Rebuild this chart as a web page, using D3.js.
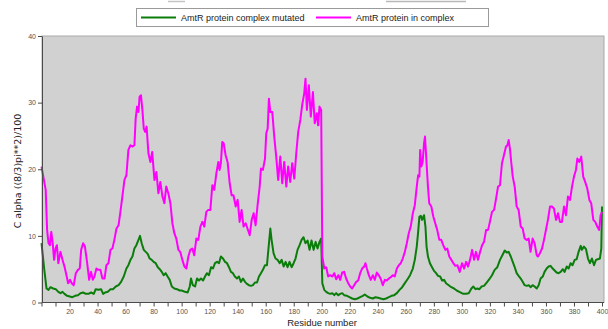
<!DOCTYPE html>
<html>
<head>
<meta charset="utf-8">
<script src="https://cdn.jsdelivr.net/npm/d3@7"></script>
<style>
  body { margin: 0; background: #fff; }
  svg { display: block; font-family: "Liberation Sans", Arial, sans-serif; }
</style>
</head>
<body>
<div id="chart"></div>
<script>
// chart data: [residue, value]
const seriesNames = ["AmtR protein complex mutated", "AmtR protein in complex"];
const seriesColors = ["#0a7d0a", "#ff00ff"];

const mutated = [
  [0,8.9],[2,4.9],[3.6,2.1],[5,1.9],[6.4,2.3],[8.3,2.1],[10.2,2.0],[12,1.6],[13.5,1.4],[15,1.6],
  [16.4,1.3],[18.3,1.0],[20.2,0.9],[22,0.8],[24,1.0],[26,1.1],[27.8,1.4],[29.7,1.5],[31.6,1.3],[33.5,1.3],
  [35.4,1.5],[37.3,1.3],[38.7,2.0],[40.6,1.9],[42.5,2.0],[44,1.3],[45.4,1.5],[47.3,1.6],[49.2,2.0],[51,2.0],
  [53,2.4],[55,2.6],[56.8,3.1],[58.7,3.9],[60.6,5.1],[62,5.6],[63.5,6.4],[64.9,6.9],[66.3,8.1],[67.7,8.6],
  [69.2,9.4],[70.3,10.0],[71.5,8.9],[73,7.9],[74.4,7.6],[75.8,7.3],[77.2,6.6],[78.7,6.4],[80,6.1],[81.5,5.9],
  [83,5.3],[84.4,5.0],[85.8,4.6],[87.2,4.1],[88.6,4.4],[90,3.9],[91.5,3.4],[93,2.4],[94.8,2.1],[96.7,2.0],
  [98.6,1.8],[100,1.8],[102.4,1.6],[104.3,1.5],[105.8,2.4],[106.7,3.6],[108,2.6],[109.6,2.4],[111,3.6],[112.4,3.3],
  [113.8,3.6],[115.3,3.3],[116.7,3.9],[118,4.4],[119.5,4.1],[121,5.3],[122.4,5.1],[123.8,5.9],[125.3,6.1],[126.7,5.9],
  [128,6.9],[129.5,6.6],[131,6.1],[132.4,5.9],[133.8,5.3],[135.2,4.6],[136.6,4.4],[138,3.9],[139.5,3.6],[140.9,3.9],
  [142.3,3.1],[143.8,3.6],[145.2,3.1],[146.6,2.8],[148,2.6],[149.5,2.5],[150.9,2.6],[152.3,3.0],[153.8,3.0],[155.2,3.9],
  [156.6,4.4],[158,4.9],[159.5,5.6],[160.9,5.6],[161.9,7.9],[163.3,11.1],[164.2,9.4],[165.6,7.4],[167,6.6],[168.5,6.4],
  [170,5.9],[171.4,6.4],[172.8,5.4],[174.2,6.1],[175.6,5.3],[177,6.1],[178.5,5.3],[179.9,5.9],[181.3,6.6],[182.7,7.9],
  [184.2,8.6],[185.6,9.4],[187,9.8],[188.4,8.9],[189.9,9.3],[191.3,7.9],[192.7,9.3],[194.2,7.9],[195.6,9.1],[197,8.1],
  [198.4,9.1],[199.6,9.6],[200.4,2.9],[201.8,1.9],[203.2,1.6],[204.6,1.4],[206,1.3],[207.5,1.4],[208.9,1.1],[210.3,1.4],
  [211.8,1.1],[213.2,1.3],[214.6,1.4],[216,1.1],[218,1.0],[219.8,0.8],[221.7,0.6],[223.6,0.5],[225.5,0.6],[227.4,0.8],
  [229.3,1.0],[230.7,1.2],[232.6,0.9],[234.5,0.7],[236.5,0.6],[238.3,0.8],[240.2,0.7],[242,0.6],[244,0.5],[245.9,0.6],
  [247.9,0.8],[249.8,1.0],[251.7,1.1],[253.6,1.4],[255.5,1.9],[257.4,2.3],[259.3,2.9],[261.2,3.5],[263,4.1],[265,5.1],
  [266.4,6.4],[267.8,8.4],[268.8,10.6],[269.7,12.9],[270.7,13.0],[271.6,12.4],[273,13.1],[274,11.4],[274.8,8.4],[275.8,6.9],
  [277.2,5.9],[278.7,5.3],[280,4.8],[281.6,4.4],[283,4.0],[284.5,3.9],[285.9,3.3],[287.3,3.4],[288.7,2.9],[290.6,2.6],
  [292.5,2.3],[294.4,2.1],[296.3,1.8],[298.2,1.6],[300,1.4],[301,1.3],[303,1.3],[304.9,1.4],[306.8,2.1],[308.2,2.4],
  [309.7,2.0],[311,2.1],[312.5,2.0],[314,2.4],[315.8,2.5],[317.7,3.0],[319.6,3.5],[321.5,4.1],[323.4,4.9],[325.3,5.3],
  [327.2,6.4],[328.9,7.1],[330.6,7.8],[332,7.5],[333.4,7.6],[334.9,6.9],[336.3,6.1],[337.7,5.3],[339.1,4.4],[340.5,4.0],
  [342,3.6],[343.4,3.1],[344.8,2.6],[346.2,2.5],[347.7,2.6],[349,2.3],[350.5,2.6],[351.9,2.4],[353.4,2.1],[354.8,2.6],
  [356.2,3.6],[357.7,3.9],[359,4.6],[360.5,5.1],[361.9,5.4],[363.3,5.5],[364.8,5.1],[366.2,4.8],[367.6,4.5],[369,4.4],
  [370.5,4.6],[372,5.0],[373.3,4.6],[374.8,5.4],[376.2,5.1],[377.6,5.9],[379,5.6],[380.5,6.4],[381.9,6.5],[383.3,7.6],
  [384.8,8.5],[385.7,7.9],[387.1,8.4],[388.6,8.0],[390,6.6],[391.4,5.9],[392.8,6.6],[394.3,5.6],[395.7,6.4],[397,6.5],
  [398.5,6.6],[399.5,8.1],[400.3,14.4]
];

const inComplex = [
  [0,20.4],[3,16.9],[4,10.9],[5,8.9],[6,8.6],[7,10.6],[8,8.9],[9,6.4],[10,8.1],[11,8.6],
  [12,5.9],[13.5,7.6],[15,6.4],[16.4,5.4],[18,3.9],[19,2.9],[20.4,3.4],[21.6,2.9],[23,2.6],[24.5,4.4],
  [26,4.9],[27.3,5.1],[28.3,7.9],[29.7,8.9],[31,8.4],[32.6,5.9],[34,3.4],[35.4,4.6],[36.6,3.4],[37.8,3.9],
  [39.2,5.1],[40.6,4.9],[42,4.9],[43.5,3.6],[45,3.6],[46.3,5.6],[47.8,5.9],[49.2,7.9],[50.6,8.1],[52,9.4],
  [53.5,11.1],[55,11.6],[56.3,13.6],[57.7,15.9],[59.2,18.4],[60.6,19.1],[62,22.9],[63.5,23.6],[64.9,23.4],[66.3,23.6],
  [67.2,27.6],[68.2,29.4],[69.2,28.6],[70,30.9],[71,31.1],[72,28.9],[73,26.1],[74,25.6],[75,26.4],[76.3,22.4],
  [77.7,21.1],[79,22.6],[80.6,18.4],[82,19.6],[83.4,16.4],[84.8,18.1],[86.3,15.9],[87.7,14.9],[89,17.4],[90.5,16.4],
  [92,14.9],[93.4,11.9],[94.8,10.4],[96.2,9.6],[97.7,7.9],[99,7.6],[100.5,6.4],[102,5.4],[103.4,5.1],[104.8,6.9],
  [106.2,7.9],[107.6,8.1],[109,7.1],[110.5,9.6],[111.9,9.4],[113.4,11.4],[114.8,12.1],[116.2,11.4],[117.6,13.6],[119,13.9],
  [120.5,13.9],[121.9,17.6],[123.3,16.9],[124.8,19.4],[126.2,21.1],[127.1,19.9],[128,20.9],[129,24.1],[130,23.9],[131.4,22.1],
  [132.8,21.1],[134.3,17.9],[135.7,16.1],[137,16.1],[138.6,14.4],[140,15.4],[141.4,12.1],[142.8,13.9],[144.2,11.4],[145.7,11.9],
  [147,11.1],[148.6,10.1],[150,12.4],[151.4,13.4],[152.8,11.6],[154.2,14.6],[155.7,17.4],[156.6,20.1],[158,19.9],[159.5,21.6],
  [160.4,25.4],[161.4,26.1],[162.3,30.6],[163.3,28.6],[164.7,28.6],[166.1,24.9],[167.5,21.9],[168.9,18.4],[170.4,21.9],[171.8,17.9],
  [173.2,21.1],[174.7,17.4],[176,20.4],[177.5,18.1],[178.9,20.9],[180.4,18.6],[181.8,22.4],[183.2,25.6],[184.7,27.4],[186,29.6],
  [187.5,31.4],[188.4,33.6],[189.4,28.9],[190.8,32.6],[192.2,27.9],[193.7,31.6],[195,26.9],[196.5,28.4],[197.4,26.6],[198.4,29.4],
  [199.6,28.9],[200.4,6.9],[201.8,5.1],[203.2,5.3],[204.6,3.9],[206,4.1],[207.5,3.9],[208.9,4.4],[210.3,3.5],[211.8,4.1],
  [213.2,3.4],[214.6,4.5],[216,4.6],[217.4,3.6],[218.9,2.9],[220.3,2.4],[221.7,2.1],[223.1,2.6],[224.6,3.1],[226,3.3],
  [227.4,4.4],[228.8,5.1],[230.3,5.4],[231.2,5.9],[232.2,5.1],[233.6,4.1],[235,3.4],[236.5,4.1],[237.9,3.4],[239.3,4.5],
  [240.7,4.1],[242,3.6],[243.6,2.6],[245,3.4],[246.4,3.3],[247.9,3.6],[249.3,3.8],[250.7,4.1],[252.1,3.9],[253.6,5.1],
  [255,5.6],[256.4,5.9],[257.8,6.6],[259.3,7.6],[260.7,8.9],[262.1,10.4],[263.5,11.4],[265,13.4],[266.4,14.6],[267.8,17.4],
  [268.8,19.1],[269.7,18.9],[270.2,22.9],[271.1,20.4],[272,21.1],[273,23.9],[273.7,24.9],[274.8,20.9],[275.8,17.4],[276.7,14.9],
  [278.2,14.4],[279.6,12.9],[281,11.9],[282.4,10.9],[283.9,9.4],[285.3,9.4],[286.7,8.6],[288.2,7.9],[289.6,8.1],[291,6.9],
  [292.5,6.4],[293.9,5.9],[295.3,5.5],[296.8,5.6],[298.5,4.6],[300.1,5.9],[301.6,5.1],[303,6.1],[304.4,5.4],[305.8,6.4],
  [307.3,7.9],[308.7,6.4],[310,7.6],[311.5,6.4],[313,7.6],[314.4,8.6],[315.8,9.1],[317.3,10.9],[318.7,10.9],[320,12.1],
  [321.5,13.6],[323,13.9],[324.4,15.6],[325.8,17.4],[327.2,17.6],[328.6,20.9],[330,22.1],[331.5,23.4],[332.5,23.6],[333.4,24.4],
  [334.4,22.9],[335.3,20.9],[336.3,18.9],[337.7,17.4],[339.1,14.4],[340.5,13.9],[342,11.4],[343.4,11.1],[344.8,9.6],[346.2,9.4],
  [347.7,9.6],[349,7.6],[350.5,9.6],[351.9,8.9],[353.4,7.1],[354.3,6.9],[355.7,7.4],[357.2,8.1],[358.6,9.4],[360,10.9],
  [361.4,12.4],[362.9,14.4],[364.3,14.4],[365.7,14.1],[367.2,12.4],[368.6,13.4],[370,12.1],[371.4,12.1],[372.9,14.4],[374.3,13.1],
  [375.7,15.9],[377.2,15.4],[378.6,17.4],[380,18.9],[381.4,19.9],[382.4,21.6],[383.8,21.1],[385.2,21.9],[386.6,18.9],[388,18.1],
  [389.5,17.1],[391,15.4],[392.3,14.9],[393.8,12.4],[395.2,12.1],[396.6,11.4],[398,10.9],[399,13.1],[400.3,13.6]
];

const yTicks = [0, 10, 20, 30, 40];
const xTicks = d3.range(0, 401, 10);

const width = 608, height = 329;
const plot = { left: 42, top: 36, right: 604, bottom: 302.5 };

const svg = d3.select("#chart").append("svg")
  .attr("width", width)
  .attr("height", height);

// faint lines left over from the figure above
svg.append("line").attr("x1", 168).attr("x2", 185).attr("y1", 1.5).attr("y2", 1.5)
  .attr("stroke", "#c4c4c4").attr("stroke-width", 1.5);
svg.append("line").attr("x1", 386).attr("x2", 466).attr("y1", 1.5).attr("y2", 1.5)
  .attr("stroke", "#b8b8b8").attr("stroke-width", 1.5);

const x = d3.scaleLinear().domain([0, 400]).range([41.5, 602]);
const y = d3.scaleLinear().domain([0, 40]).range([plot.bottom, plot.top]);

// plot background
svg.append("rect")
  .attr("x", plot.left).attr("y", plot.top)
  .attr("width", plot.right - plot.left).attr("height", plot.bottom - plot.top)
  .attr("fill", "#d1d1d1")
  .attr("stroke", "#a9a9a9").attr("stroke-width", 1);

// lines
const line = d3.line().x(d => x(Math.min(d[0], 400))).y(d => y(d[1]));
[mutated, inComplex].forEach((s, i) => {
  svg.append("path")
    .datum(s)
    .attr("d", line)
    .attr("fill", "none")
    .attr("stroke", seriesColors[i])
    .attr("stroke-width", 2)
    .attr("stroke-linejoin", "round");
});

// axes
const yAxis = svg.append("g")
  .attr("transform", `translate(${plot.left},0)`)
  .call(d3.axisLeft(y).tickValues(yTicks).tickSize(4).tickSizeOuter(0).tickPadding(2));

const xAxis = svg.append("g")
  .attr("transform", `translate(0,${plot.bottom})`)
  .call(d3.axisBottom(x).tickValues(xTicks).tickSize(4).tickSizeOuter(0).tickPadding(3)
    .tickFormat(d => (d > 0 && d % 20 === 0) ? d : ""));

[yAxis, xAxis].forEach(g => {
  g.select(".domain").attr("stroke", "#4a4a4a");
  g.selectAll(".tick line").attr("stroke", "#4a4a4a");
  g.selectAll(".tick text").attr("fill", "#555").style("font-size", "7px");
});
xAxis.select(".domain").attr("d", `M${plot.left},0H${plot.right}`);

// axis titles
svg.append("text")
  .attr("x", 322).attr("y", 326)
  .attr("text-anchor", "middle")
  .style("font-size", "9.5px").attr("fill", "#222")
  .text("Residue number");

svg.append("text")
  .attr("transform", "translate(21,171) rotate(-90)")
  .attr("text-anchor", "middle")
  .style("font-family", "'DejaVu Sans', Verdana, sans-serif")
  .style("font-size", "9.5px").attr("fill", "#222")
  .text("C alpha ((8/3)pi**2)/100");

// legend
const legend = svg.append("g");
legend.append("rect")
  .attr("x", 136.5).attr("y", 8.5).attr("width", 352).attr("height", 18)
  .attr("fill", "#fff").attr("stroke", "#9a9a9a");
const legendX = [141, 316];
seriesNames.forEach((name, i) => {
  legend.append("line")
    .attr("x1", legendX[i]).attr("x2", legendX[i] + 35)
    .attr("y1", 17.5).attr("y2", 17.5)
    .attr("stroke", seriesColors[i]).attr("stroke-width", 2);
  legend.append("text")
    .attr("x", legendX[i] + 40).attr("y", 20.5)
    .style("font-size", "9px").attr("fill", "#222")
    .text(name);
});
</script>
</body>
</html>
